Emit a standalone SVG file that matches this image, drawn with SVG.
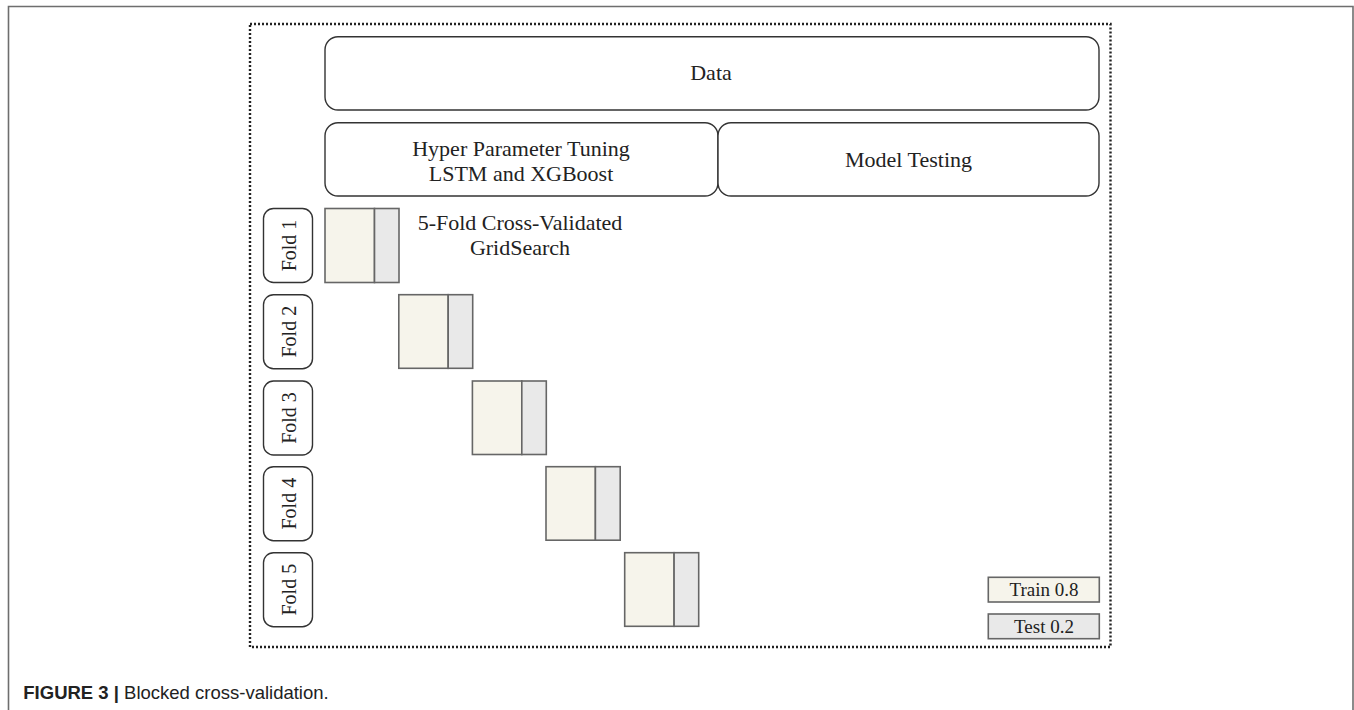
<svg xmlns="http://www.w3.org/2000/svg" width="1354" height="710" viewBox="0 0 1354 710">
<style>
.frame{fill:none;stroke:#6e6e6e;stroke-width:1.6}
.dotbox{fill:none;stroke:#222;stroke-width:2.4;stroke-dasharray:2 2}
.rbox{fill:#fff;stroke:#333;stroke-width:1.4}
.t{font-family:"Liberation Serif","Times New Roman",serif;fill:#222;text-anchor:middle}
.t22{font-size:22px}
.t20{font-size:20px}
.t19{font-size:19px}
.train{fill:#f6f4eb;stroke:#666;stroke-width:1.6}
.test{fill:#e9e9e9;stroke:#666;stroke-width:1.6}
.cap{font-family:"Liberation Sans",Arial,sans-serif;font-size:18.5px;fill:#222}
</style>
<g id="page-frame">
<path class="frame" d="M8.5,710 V6.5 H1353 V710"/>
</g>
<g id="dotted-container">
<rect class="dotbox" x="250" y="24" width="860.5" height="623"/>
</g>
<g id="node-data">
<rect class="rbox" x="325" y="36.7" width="774" height="73.3" rx="13"/>
<text class="t t22" x="711" y="80">Data</text>
</g>
<g id="node-hyper">
<rect class="rbox" x="325" y="122.7" width="393" height="73.3" rx="13"/>
<text class="t t22" x="521" y="155.5">Hyper Parameter Tuning</text>
<text class="t t22" x="521" y="181">LSTM and XGBoost</text>
</g>
<g id="node-testing">
<rect class="rbox" x="718" y="122.7" width="381" height="73.3" rx="13"/>
<text class="t t22" x="908.5" y="166.5">Model Testing</text>
</g>
<g id="node-gridsearch-label">
<text class="t t22" x="520" y="230">5-Fold Cross-Validated</text>
<text class="t t22" x="520" y="255">GridSearch</text>
</g>
<g id="fold1">
<rect class="rbox" x="263.5" y="208.5" width="49" height="74" rx="10"/>
<text class="t t20" transform="translate(295.5,245.5) rotate(-90)">Fold 1</text>
<rect class="train" x="325" y="208.5" width="49.5" height="74"/>
<rect class="test" x="374.5" y="208.5" width="24.5" height="74"/>
</g>
<g id="fold2">
<rect class="rbox" x="263.5" y="294.7" width="49" height="74" rx="10"/>
<text class="t t20" transform="translate(295.5,331.7) rotate(-90)">Fold 2</text>
<rect class="train" x="398.8" y="294.7" width="49.4" height="73.6"/>
<rect class="test" x="448.2" y="294.7" width="24.5" height="73.6"/>
</g>
<g id="fold3">
<rect class="rbox" x="263.5" y="381" width="49" height="74" rx="10"/>
<text class="t t20" transform="translate(295.5,418) rotate(-90)">Fold 3</text>
<rect class="train" x="472.4" y="381" width="49.4" height="73.5"/>
<rect class="test" x="521.8" y="381" width="24.5" height="73.5"/>
</g>
<g id="fold4">
<rect class="rbox" x="263.5" y="466.7" width="49" height="74" rx="10"/>
<text class="t t20" transform="translate(295.5,503.7) rotate(-90)">Fold 4</text>
<rect class="train" x="546" y="466.7" width="49.4" height="73.5"/>
<rect class="test" x="595.4" y="466.7" width="24.8" height="73.5"/>
</g>
<g id="fold5">
<rect class="rbox" x="263.5" y="552.7" width="49" height="74" rx="10"/>
<text class="t t20" transform="translate(295.5,589.7) rotate(-90)">Fold 5</text>
<rect class="train" x="624.7" y="552.7" width="49.4" height="73.6"/>
<rect class="test" x="674.1" y="552.7" width="24.6" height="73.6"/>
</g>
<g id="legend">
<rect class="train" x="988.3" y="577.3" width="111" height="24.7"/>
<text class="t t19" x="1044" y="596">Train 0.8</text>
<rect class="test" x="988.3" y="614" width="111" height="24.7"/>
<text class="t t19" x="1044" y="632.5">Test 0.2</text>
</g>
<g id="connectors"></g>
<g id="caption">
<text class="cap" x="23.3" y="699.3"><tspan font-weight="bold">FIGURE 3 | </tspan>Blocked cross-validation.</text>
</g>
</svg>
